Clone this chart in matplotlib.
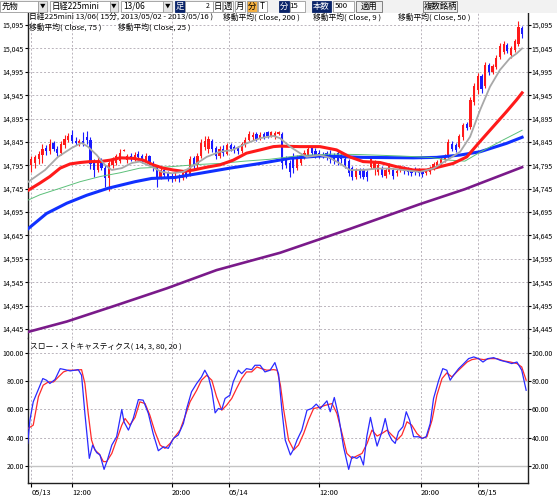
import matplotlib
matplotlib.use('Agg')
import matplotlib.pyplot as plt
from matplotlib.patches import Rectangle

plt.rcParams['font.family'] = ['Noto Sans CJK JP', 'DejaVu Sans']

W, H = 557, 498

# 15-minute bars, 05/13 09:00 .. 05/15 02:45
opens = [14795, 14800, 14808, 14818, 14832, 14826, 14842, 14830, 14822, 14838,
         14850, 14860, 14848, 14842, 14848, 14856, 14850, 14800, 14785, 14806,
         14790, 14768, 14795, 14800, 14805, 14826, 14806, 14816, 14808, 14820,
         14815, 14806, 14814, 14800, 14792, 14770, 14786, 14778, 14772, 14766,
         14772, 14768, 14780, 14775, 14810, 14795, 14815, 14835, 14830, 14848,
         14832, 14815, 14830, 14820, 14838, 14834, 14832, 14825, 14838, 14850,
         14855, 14862, 14852, 14862, 14866, 14858, 14856, 14862, 14862, 14806,
         14800, 14815, 14790, 14800, 14812, 14818, 14832, 14826, 14822, 14820,
         14822, 14820, 14818, 14822, 14818, 14808, 14805, 14790, 14770, 14785,
         14785, 14780, 14792, 14790, 14780, 14790, 14772, 14780, 14785, 14778,
         14785, 14790, 14788, 14786, 14788, 14786, 14782, 14778, 14780, 14790,
         14792, 14800, 14806, 14812, 14840, 14838, 14835, 14856, 14884, 14876,
         14930, 14955, 14985, 14965, 15010, 14995, 15005, 15027, 15038, 15052,
         15030, 15042, 15055, 15088]
highs = [14815, 14818, 14825, 14840, 14838, 14852, 14846, 14836, 14848, 14860,
         14864, 14870, 14856, 14852, 14866, 14868, 14855, 14808, 14812, 14810,
         14795, 14805, 14812, 14820, 14830, 14830, 14820, 14822, 14824, 14826,
         14820, 14822, 14818, 14805, 14796, 14790, 14790, 14782, 14778, 14780,
         14776, 14784, 14786, 14815, 14816, 14822, 14852, 14858, 14858, 14852,
         14836, 14836, 14838, 14842, 14842, 14838, 14836, 14845, 14856, 14868,
         14866, 14866, 14866, 14866, 14868, 14868, 14868, 14868, 14866, 14815,
         14806, 14822, 14818, 14820, 14828, 14835, 14836, 14832, 14828, 14824,
         14826, 14828, 14822, 14826, 14824, 14812, 14808, 14794, 14790, 14790,
         14790, 14784, 14815, 14806, 14800, 14794, 14790, 14800, 14790, 14788,
         14795, 14794, 14792, 14790, 14792, 14790, 14786, 14788, 14794, 14802,
         14806, 14812, 14820, 14852, 14846, 14842, 14862, 14886, 14888, 14942,
         14970, 14992, 14990, 15016, 15014, 15012, 15030, 15056, 15060, 15056,
         15050, 15066, 15104, 15092]
lows = [14780, 14790, 14798, 14800, 14818, 14820, 14826, 14815, 14818, 14832,
        14845, 14842, 14838, 14836, 14836, 14840, 14788, 14770, 14780, 14785,
        14748, 14740, 14790, 14795, 14800, 14826, 14800, 14805, 14804, 14808,
        14800, 14802, 14795, 14782, 14748, 14765, 14768, 14762, 14760, 14762,
        14760, 14764, 14768, 14772, 14788, 14790, 14810, 14828, 14822, 14824,
        14808, 14810, 14815, 14818, 14825, 14822, 14820, 14822, 14834, 14846,
        14850, 14848, 14850, 14852, 14854, 14855, 14852, 14860, 14788, 14790,
        14770, 14778, 14786, 14795, 14808, 14814, 14818, 14810, 14810, 14810,
        14806, 14800, 14798, 14795, 14800, 14790, 14772, 14763, 14766, 14768,
        14765, 14762, 14788, 14775, 14775, 14770, 14768, 14776, 14766, 14772,
        14780, 14776, 14774, 14772, 14774, 14772, 14770, 14774, 14776, 14786,
        14790, 14796, 14802, 14810, 14826, 14824, 14832, 14850, 14870, 14872,
        14925, 14948, 14950, 14960, 14988, 14990, 15000, 15022, 15032, 15035,
        15025, 15038, 15050, 15068]
closes = [14808, 14812, 14820, 14830, 14825, 14840, 14830, 14822, 14840, 14852,
          14858, 14848, 14842, 14846, 14840, 14850, 14798, 14785, 14805, 14790,
          14768, 14800, 14806, 14815, 14822, 14828, 14815, 14810, 14818, 14812,
          14805, 14815, 14800, 14790, 14770, 14785, 14775, 14770, 14766, 14772,
          14768, 14778, 14775, 14808, 14795, 14815, 14842, 14848, 14852, 14830,
          14815, 14830, 14822, 14838, 14830, 14828, 14825, 14840, 14850, 14862,
          14860, 14852, 14860, 14856, 14858, 14866, 14864, 14866, 14800, 14795,
          14780, 14790, 14812, 14815, 14822, 14830, 14822, 14815, 14815, 14815,
          14812, 14808, 14805, 14800, 14808, 14795, 14778, 14770, 14785, 14775,
          14770, 14770, 14810, 14800, 14795, 14775, 14785, 14795, 14772, 14782,
          14790, 14782, 14780, 14778, 14780, 14778, 14776, 14784, 14790, 14798,
          14802, 14808, 14815, 14845, 14830, 14828, 14858, 14882, 14874, 14935,
          14965, 14985, 14958, 15010, 14995, 15008, 15025, 15050, 15055, 15040,
          15045, 15060, 15090, 15075]

# moving averages (bar position, price)
ma9_x = [0.2, 4.7, 8.2, 11.9, 14.6, 16.3, 18.7, 20.9, 22.8, 25.5, 28.2, 30.4, 33.6,
         36.3, 39.0, 42.1, 45.8, 48.5, 52.1, 55.6, 59.3, 63.0, 66.6, 68.4, 71.1,
         73.8, 75.6, 79.2, 81.9, 84.6, 87.3, 90.9, 94.6, 98.2, 101.7, 106.3, 109.9,
         113.6, 117.2, 119.9, 122.6, 125.3, 128.0, 130.7, 132.5, 134.0]
ma9_y = [14760, 14785, 14813, 14832, 14843, 14835, 14817, 14796, 14785, 14789,
         14800, 14803, 14792, 14781, 14778, 14781, 14799, 14813, 14824, 14828,
         14842, 14853, 14858, 14853, 14835, 14821, 14813, 14817, 14811, 14799,
         14785, 14785, 14788, 14788, 14785, 14781, 14788, 14806, 14824, 14856,
         14913, 14963, 14999, 15024, 15034, 15045]
ma25_x = [0.2, 3.3, 6.0, 8.8, 11.5, 14.2, 16.9, 19.6, 22.3, 25.0, 28.6, 31.3, 34.0,
          36.7, 39.5, 42.2, 44.9, 48.5, 52.1, 55.7, 59.3, 63.0, 66.6, 68.4, 73.8,
          79.2, 83.7, 87.3, 90.9, 95.5, 100.0, 104.5, 108.1, 111.7, 115.3, 119.0,
          122.6, 126.2, 129.8, 132.5, 134.0]
ma25_y = [14742, 14757, 14771, 14789, 14798, 14801, 14803, 14803, 14806, 14811,
          14810, 14806, 14796, 14789, 14785, 14782, 14785, 14791, 14796, 14806,
          14821, 14828, 14835, 14836, 14835, 14835, 14828, 14813, 14803, 14801,
          14792, 14785, 14785, 14792, 14799, 14813, 14846, 14878, 14910, 14935,
          14950]
ma50_x = [0.2, 3.3, 8.8, 14.2, 19.6, 25.0, 30.4, 38.6, 46.7, 52.1, 58.9, 65.7,
          73.8, 81.9, 90.1, 100.9, 109.0, 114.4, 118.5, 122.6, 128.8, 134.0]
ma50_y = [14721, 14732, 14746, 14760, 14771, 14779, 14789, 14792, 14797, 14799,
          14804, 14808, 14816, 14819, 14818, 14815, 14812, 14806, 14804, 14823,
          14849, 14870]
ma75_x = [0.2, 5.1, 10.6, 16.0, 21.8, 29.1, 33.6, 39.9, 46.7, 54.8, 63.0, 71.1,
          79.2, 90.9, 104.5, 110.8, 117.2, 122.6, 129.8, 134.0]
ma75_y = [14660, 14692, 14714, 14731, 14746, 14760, 14767, 14769, 14778, 14789,
          14799, 14810, 14815, 14812, 14811, 14812, 14817, 14824, 14842, 14855]
ma200_x = [0.2, 10.6, 24.1, 37.7, 51.2, 68.4, 87.3, 106.3, 118.5, 134.0]
ma200_y = [14439, 14461, 14496, 14532, 14571, 14608, 14659, 14712, 14744, 14791]

# slow stochastics %K (blue) and %D (red)
k_x = [0.0, 0.6, 1.5, 4.1, 5.1, 6.0, 7.4, 8.8, 10.1, 11.5, 13.7, 14.6, 15.5, 16.7,
       17.6, 18.7, 19.6, 20.7, 21.6, 22.8, 24.1, 25.5, 26.1, 27.3, 28.6, 30.0,
       31.3, 32.7, 34.0, 35.4, 36.8, 38.1, 39.5, 40.8, 42.2, 43.1, 44.4, 45.8,
       47.1, 48.0, 49.0, 49.9, 50.8, 51.7, 52.6, 53.5, 54.8, 55.7, 57.1, 58.0,
       59.3, 60.7, 61.6, 63.0, 64.3, 65.7, 67.0, 68.0, 68.9, 69.8, 71.2, 72.1,
       73.0, 74.3, 75.7, 77.0, 78.2, 79.3, 81.1, 82.0, 83.1, 84.3, 85.6, 87.0,
       87.9, 89.2, 90.1, 91.0, 91.9, 92.9, 93.8, 94.7, 96.0, 96.9, 97.8, 98.7,
       99.6, 100.5, 101.7, 102.6, 103.5, 104.6, 105.9, 106.9, 108.0, 109.1,
       110.0, 111.4, 112.5, 113.6, 114.5, 115.4, 116.8, 118.2, 119.5, 120.9,
       122.2, 123.4, 124.7, 126.3, 128.1, 129.9, 131.2, 132.6, 133.9, 135.1]
k_val = [36, 52.5, 65.4, 81.9, 80.7, 78.4, 81.2, 88.9, 88.2, 87.3, 88.2, 84.2,
         57.2, 25.4, 34.8, 29.4, 27.8, 17.6, 24.2, 34.8, 40.7, 60, 51.3, 45.4,
         53.6, 67, 66.6, 57.2, 43, 30.8, 33.6, 32.5, 39.5, 41.9, 50.1, 60.7, 72.5,
         78.4, 83, 87.8, 83, 73.6, 57.6, 60.7, 60, 67.8, 70.1, 79.5, 87.8, 85.4,
         88.9, 88.2, 91.3, 91.3, 86.6, 87.8, 93.2, 85, 59.5, 38.4, 27.8, 32,
         38.4, 45.4, 59.5, 60.7, 63.8, 60.7, 66.1, 58.4, 68.5, 54.8, 33.6, 17.6,
         26.6, 25.4, 27.1, 20.7, 40.7, 54.4, 43.5, 34.1, 44.2, 53.6, 43, 38.4,
         36, 44.2, 47.8, 58.4, 52.5, 40.7, 40.7, 39.5, 40.7, 50.1, 67.8, 80.7,
         88.9, 87.8, 80.7, 84.2, 88.9, 92.5, 96, 97.2, 96, 93.6, 96, 96.7, 94.8,
         93.6, 92.5, 93.6, 87.8, 73.6]
d_x = [0.0, 1.5, 2.9, 4.2, 5.6, 7.0, 8.3, 9.7, 11.0, 12.8, 14.6, 15.5, 16.4, 17.3,
       18.2, 19.4, 20.5, 21.4, 22.8, 24.1, 25.5, 26.4, 27.7, 29.1, 30.4, 31.8,
       33.1, 34.5, 35.9, 37.2, 38.6, 39.9, 41.3, 42.6, 44.0, 45.8, 47.1, 48.5,
       49.9, 51.2, 52.6, 53.9, 55.3, 56.6, 58.0, 59.3, 60.7, 62.1, 63.4, 64.8,
       66.6, 67.6, 68.5, 69.4, 70.7, 72.1, 73.4, 74.8, 76.1, 77.5, 78.9, 80.7,
       82.5, 83.8, 85.2, 86.5, 87.9, 89.2, 90.6, 92.0, 93.3, 94.7, 96.0, 97.4,
       98.7, 100.1, 101.4, 102.8, 104.1, 105.5, 106.9, 108.2, 109.6, 110.9,
       112.3, 113.6, 115.0, 116.3, 117.7, 119.1, 120.4, 121.8, 123.6, 125.4,
       127.2, 129.0, 130.8, 132.6, 133.9, 135.1]
d_val = [46.4, 48.9, 69, 77.2, 79.5, 79.5, 83, 86.6, 87.8, 87.8, 88.2, 78.4, 57.2,
         38.4, 31.3, 28.5, 23.1, 23.1, 28.9, 38.4, 48.9, 53.6, 48.9, 54.4, 65.4,
         64.2, 56, 44.2, 34.8, 32.5, 36, 40.7, 45.4, 54.8, 65.4, 73.6, 80.7, 84.2,
         80.7, 68.9, 59.5, 63, 67.8, 74.8, 81.9, 86.6, 86.6, 90.1, 88.9, 87.8,
         88.2, 87.8, 77.2, 59.5, 38.4, 31.3, 34.8, 43, 52.5, 60.7, 61.4, 63, 64.2,
         57.2, 43, 28.9, 25.4, 27.1, 28.9, 36, 45.4, 41.2, 43, 45.4, 41.9, 38.4,
         41.9, 51.3, 48.9, 43, 39.5, 40.7, 52.5, 70.1, 81.9, 85.9, 83, 86.6, 90.1,
         93.6, 95.3, 96, 95.3, 96, 96, 94.4, 93.6, 92.5, 90.1, 80.7]

price_ticks = [14445, 14495, 14545, 14595, 14645, 14695, 14745, 14795, 14845,
               14895, 14945, 14995, 15045, 15095]
stoch_ticks = [20, 40, 60, 80, 100]
time_pos = [1, 12, 39, 54.5, 79, 106.5, 122]
time_labels = ['05/13', '12:00', '20:00', '05/14', '12:00', '20:00', '05/15']

fig = plt.figure(figsize=(W / 100, H / 100), dpi=100)
fig.patch.set_facecolor('white')


def px(x, y):
    return x / W, 1 - y / H


def box(x0, y0, x1, y1, fc, ec='#9a9a9a'):
    fig.add_artist(Rectangle(px(x0, y1), (x1 - x0) / W, (y1 - y0) / H,
                             transform=fig.transFigure, fc=fc, ec=ec, lw=0.6))


def txt(x, y, s, size=5.6, color='black', ha='left'):
    fig.text(*px(x, y), s, fontsize=size, color=color, ha=ha, va='center')


# toolbar
box(0, 0, 557, 13, '#f2f2f2', ec='none')
for x0, x1, a1, label in [(0, 38, 47, '先物'), (50, 110, 118, '日経225mini'),
                          (121, 163, 172, '13/06')]:
    box(x0, 1, x1, 12, 'white')
    box(x1, 1, a1, 12, '#e4e4e4')
    txt(x0 + 2, 6.5, label, size=6)
    txt((x1 + a1) / 2, 6.5, '▼', size=4, ha='center')
box(175, 1, 185, 12, '#0a246a', ec='#0a246a')
txt(180, 6.5, '足', size=6, color='white', ha='center')
box(185, 1, 213, 12, 'white')
txt(208, 6.5, '2', size=5, ha='center')
for x0, x1, label, fc in [(213, 222, '日', 'white'), (223, 233, '週', 'white'),
                          (235, 245, '月', 'white'), (247, 257, '分', '#f5b040'),
                          (258, 267, 'T', 'white')]:
    box(x0, 1, x1, 12, fc)
    txt((x0 + x1) / 2, 6.5, label, size=6, ha='center')
box(279, 1, 289, 12, '#0a246a', ec='#0a246a')
txt(284, 6.5, '分', size=6, color='white', ha='center')
box(290, 1, 305, 12, 'white')
txt(298, 6.5, '15', size=5.6, ha='right')
box(312, 1, 331, 12, '#0a246a', ec='#0a246a')
txt(321.5, 6.5, '本数', size=6, color='white', ha='center')
box(333, 1, 354, 12, 'white')
txt(348, 6.5, '500', size=5.6, ha='right')
box(356, 1, 382, 12, '#ececec', ec='#707070')
txt(369, 6.5, '適用', size=6, ha='center')
box(423, 1, 457, 12, '#ececec', ec='#707070')
txt(440, 6.5, '複数銘柄', size=6, ha='center')

# panels
ax = fig.add_axes([27.7 / W, 1 - 338 / H, 500.3 / W, 325 / H])
ax2 = fig.add_axes([27.7 / W, 1 - 483 / H, 500.3 / W, 145 / H])
grid_kw = dict(color='#bab4bc', lw=0.7, ls=(0, (2, 2)), zorder=0)

x = list(range(1, len(closes) + 1))
up = [c >= o for o, c in zip(opens, closes)]
cols = ['#ff1a1a' if u else '#1a1aff' for u in up]
bottoms = [min(o, c) for o, c in zip(opens, closes)]
heights = [max(abs(c - o), 1.5) for o, c in zip(opens, closes)]
ax.vlines(x, lows, highs, colors=cols, lw=0.8, zorder=3)
ax.bar(x, heights, bottom=bottoms, width=0.6, color=cols, lw=0, zorder=3)

ax.plot(ma200_x, ma200_y, color='#7a1a8a', lw=1.9, zorder=4)
ax.plot(ma75_x, ma75_y, color='#1030ff', lw=2.2, zorder=4)
ax.plot(ma50_x, ma50_y, color='#5cc07a', lw=0.7, zorder=4)
ax.plot(ma25_x, ma25_y, color='#ff1a1a', lw=2.2, zorder=4)
ax.plot(ma9_x, ma9_y, color='#a8a8a8', lw=1.3, zorder=5)

for p in price_ticks:
    ax.axhline(p, **grid_kw)
for t in time_pos:
    ax.axvline(t, **grid_kw)
    ax2.axvline(t, **grid_kw)

ax.set_xlim(0, 135.6)
ax.set_ylim(14425.8, 15120.7)
ax.set_yticks(price_ticks)
ax.set_yticklabels([f'{p:,}' for p in price_ticks])
ax.tick_params(axis='y', left=True, right=True, labelleft=True, labelright=True,
               length=2.2, width=0.8, pad=0.6, labelsize=5.0)
ax.tick_params(axis='x', bottom=False, labelbottom=False)
for s in ['top', 'bottom']:
    ax.spines[s].set_visible(False)
for s in ['left', 'right']:
    ax.spines[s].set_color('#202020')
    ax.spines[s].set_linewidth(1)

# stochastics
for v in stoch_ticks:
    if v in (20, 80):
        ax2.axhline(v, color='#c4c4c4', lw=1.0, zorder=0)
    else:
        ax2.axhline(v, **grid_kw)
ax2.plot(d_x, d_val, color='#ff2a2a', lw=0.9, zorder=3)
ax2.plot(k_x, k_val, color='#2a2aff', lw=0.9, zorder=4)
ax2.set_xlim(0, 135.6)
ax2.set_ylim(7.96, 110.6)
ax2.set_yticks(stoch_ticks)
ax2.set_yticklabels([f'{v:.2f}' for v in stoch_ticks])
ax2.tick_params(axis='y', left=True, right=True, labelleft=True, labelright=True,
                length=2.2, width=0.8, pad=0.6, labelsize=5.0)
ax2.set_xticks(time_pos)
ax2.set_xticklabels(time_labels)
ax2.tick_params(axis='x', length=3, width=0.8, pad=1.5, labelsize=5.4)
for lbl in ax2.get_xticklabels():
    lbl.set_ha('left')
ax2.spines['top'].set_visible(False)
for s in ['left', 'right', 'bottom']:
    ax2.spines[s].set_color('#202020')
    ax2.spines[s].set_linewidth(1)

# legend texts
txt(29, 17, '日経225mini 13/06( 15分, 2013/05/02 - 2013/05/16 )')
txt(223, 17, '移動平均( Close, 200 )')
txt(313, 17, '移動平均( Close, 9 )')
txt(398, 17, '移動平均( Close, 50 )')
txt(29, 27, '移動平均( Close, 75 )')
txt(118, 27, '移動平均( Close, 25 )')
txt(30, 347, 'スロー・ストキャスティクス( 14, 3, 80, 20 )')

fig.savefig('out.png', dpi=100)
